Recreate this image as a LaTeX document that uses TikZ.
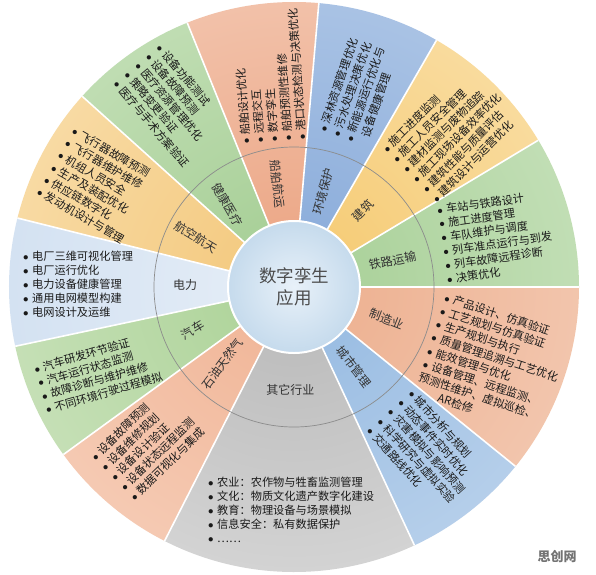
\documentclass[tikz,border=0pt]{standalone}
\usepackage{fontspec}
\setmainfont{Noto Sans CJK SC}

\definecolor{railA}{HTML}{A6CF95}
\definecolor{railB}{HTML}{DCEDD4}
\definecolor{bldA}{HTML}{F5C96F}
\definecolor{bldB}{HTML}{FDEDCB}
\definecolor{envA}{HTML}{86A9D9}
\definecolor{envB}{HTML}{CCDCF0}
\definecolor{shipA}{HTML}{EBA381}
\definecolor{shipB}{HTML}{F9DFD1}
\definecolor{hlthA}{HTML}{A3CD92}
\definecolor{hlthB}{HTML}{DCEDD3}
\definecolor{aeroA}{HTML}{F3C77A}
\definecolor{aeroB}{HTML}{FDEDCC}
\definecolor{pwrA}{HTML}{E6EEF7}
\definecolor{pwrB}{HTML}{C2D6ED}
\definecolor{autoA}{HTML}{ABD296}
\definecolor{autoB}{HTML}{DFEDD5}
\definecolor{oilA}{HTML}{F0B394}
\definecolor{oilB}{HTML}{FAE0D1}
\definecolor{othA}{HTML}{B8B8B8}
\definecolor{othB}{HTML}{EEEEEE}
\definecolor{cityA}{HTML}{94B9E1}
\definecolor{cityB}{HTML}{D6E4F3}
\definecolor{mfgA}{HTML}{ECAE8D}
\definecolor{mfgB}{HTML}{F9DCCC}
\definecolor{hubA}{HTML}{E8F1F9}
\definecolor{hubB}{HTML}{A9C8E2}

\newcommand{\itm}{\makebox[9pt][l]{$\bullet$}}

\begin{document}
\begin{tikzpicture}[x=1pt, y=1pt,
        sep/.style = {draw=white, line width=1.6pt},
        ring/.style = {draw=black!45, line width=0.7pt},
        hub/.style = {align=center, text=black!70, font=\fontsize{17.5}{22}\selectfont},
        sector/.style = {text=black!80, inner sep=0pt, font=\fontsize{12}{14}\selectfont},
        items/.style = {align=left, anchor=west, inner sep=0pt, text=black!90, font=\fontsize{11.2}{14}\selectfont},
    ]
    \fill[white] (-294,-287) rectangle (302,287);
    \useasboundingbox (-294,-287) rectangle (302,287);

    % sectors
    \foreach \a/\b/\ci/\co in {0/31/railA/railB, 31/60/bldA/bldB, 60/85/envA/envB,
            85/112/shipA/shipB, 112/138/hlthA/hlthB, 138/166/aeroA/aeroB,
            166/192/pwrA/pwrB, 192/216/autoA/autoB, 216/243/oilA/oilB,
            243/295/othA/othB, 295/321/cityA/cityB, 321/360/mfgA/mfgB} {
        \begin{scope}
            \clip (0,0) -- (\a:285) arc[start angle=\a, end angle=\b, radius=285] -- cycle;
            \shade[inner color=\ci, outer color=\co] (0,0) circle[radius=570];
        \end{scope}
    }
    \foreach \a in {0,31,60,85,112,138,166,192,216,243,295,321}
        \draw[sep] (0,0) -- (\a:285);
    \draw[ring] (0,0) circle[radius=140];

    % hub
    \begin{scope}
        \clip (0,0) circle[radius=66];
        \shade[inner color=hubA, outer color=hubB] (0,0) circle[radius=120];
    \end{scope}
    \draw[white, line width=2pt] (0,0) circle[radius=66];
    \node (hub) [hub] at (0,0) {数字孪生\\应用};

    % sector names
    \node (env) [sector, rotate=74] at (73:100) {环境保护};
    \node (ship) [sector, rotate=-84] at (99:104) {船舶航运};
    \node (hlth) [sector, rotate=-60] at (129:106) {健康医疗};
    \node (aero) [sector, rotate=-31] at (153:110) {航空航天};
    \node (pwr) [sector] at (179:109) {电力};
    \node (auto) [sector, rotate=31] at (203:110) {汽车};
    \node (oil) [sector, rotate=53] at (227:105) {石油天然气};
    \node (oth) [sector] at (268:103) {其它行业};
    \node (city) [sector, rotate=-52] at (-53:100) {城市管理};
    \node (mfg) [sector, rotate=-21] at (-19:98) {制造业};
    \node (rail) [sector, rotate=11] at (15:102) {铁路运输};
    \node (bld) [sector, rotate=46] at (48:103) {建筑};

    % item lists
    \node (envL) [items, rotate=71] at (72:156) {\itm 深林资源管理优化\\ \itm 污水处理决策优化\\
        \itm 新能源运行优化与\\ \hspace*{9pt}设备健康管理};
    \node (shipL) [items, rotate=94] at (98:146) {\itm 船舶设计优化\\ \itm 远程交互\\ \itm 数字孪生\\
        \itm 船舶预测性维修\\ \itm 港口状态检测与决策优化};
    \node (hlthL) [items, rotate=-50] at (125:273) {\itm 设备功能测试\\ \itm 设备故障预测\\
        \itm 医疗资源管理优化\\ \itm 策略变更验证\\ \itm 医疗与手术方案验证};
    \node (aeroL) [items, rotate=-30] at (152:270) {\itm 飞行器故障预测\\ \itm 飞行器维护维修\\
        \itm 机组人员安全\\ \itm 生产及装配优化\\ \itm 供应链数字化\\ \itm 发动机设计与管理};
    \node (pwrL) [items] at (-271,3) {\itm 电厂三维可视化管理\\ \itm 电厂运行优化\\
        \itm 电力设备健康管理\\ \itm 通用电网模型构建\\ \itm 电网设计及运维};
    \node (autoL) [items, rotate=16] at (202:274) {\itm 汽车研发环节验证\\ \itm 汽车运行状态监测\\
        \itm 故障诊断与维护维修\\ \itm 不同环境行驶过程模拟};
    \node (oilL) [items, rotate=44] at (226.5:264) {\itm 设备故障预测\\ \itm 设备维修规划\\
        \itm 设备设计验证\\ \itm 设备状态远程监测\\ \itm 数据可视化与集成};
    \node (othL) [items] at (-86,-223) {\itm 农业：农作物与牲畜监测管理\\ \itm 文化：物质文化遗产数字化建设\\
        \itm 教育：物理设备与场景模拟\\ \itm 信息安全：私有数据保护\\ \itm ……};
    \node (cityL) [items, rotate=-48] at (-52:156) {\itm 城市分析与规划\\ \itm 动态事件实时优化\\
        \itm 灾害模拟与影响预测\\ \itm 科学研究与虚拟实验\\ \itm 交通路线优化};
    \node (mfgL) [items, rotate=-18] at (-22.6:147) {\itm 产品设计、仿真验证\\ \itm 工艺规划与仿真验证\\
        \itm 生产规划与执行\\ \itm 质量管理追溯与工艺优化\\ \itm 能效管理与优化\\
        \itm 设备管理、远程监测、\\ 预测性维护、虚拟巡检、\\ \hspace*{2.2em}AR检修};
    \node (railL) [items, rotate=8] at (16:154) {\itm 车站与铁路设计\\ \itm 施工进度管理\\
        \itm 车队维护与调度\\ \itm 列车准点运行与到发\\ \itm 列车故障远程诊断\\ \itm 决策优化};
    \node (bldL) [items, rotate=45] at (44:160) {\itm 施工进度监测\\ \itm 施工人员安全管理\\
        \itm 建材监测与废物追踪\\ \itm 施工现场设备效率优化\\ \itm 建筑性能与质量评估\\
        \itm 建筑设计与运营优化};

    \node (mark) [text=black!55, font=\fontsize{13}{13}\selectfont\bfseries] at (263,-270) {思创网};
\end{tikzpicture}
\end{document}
